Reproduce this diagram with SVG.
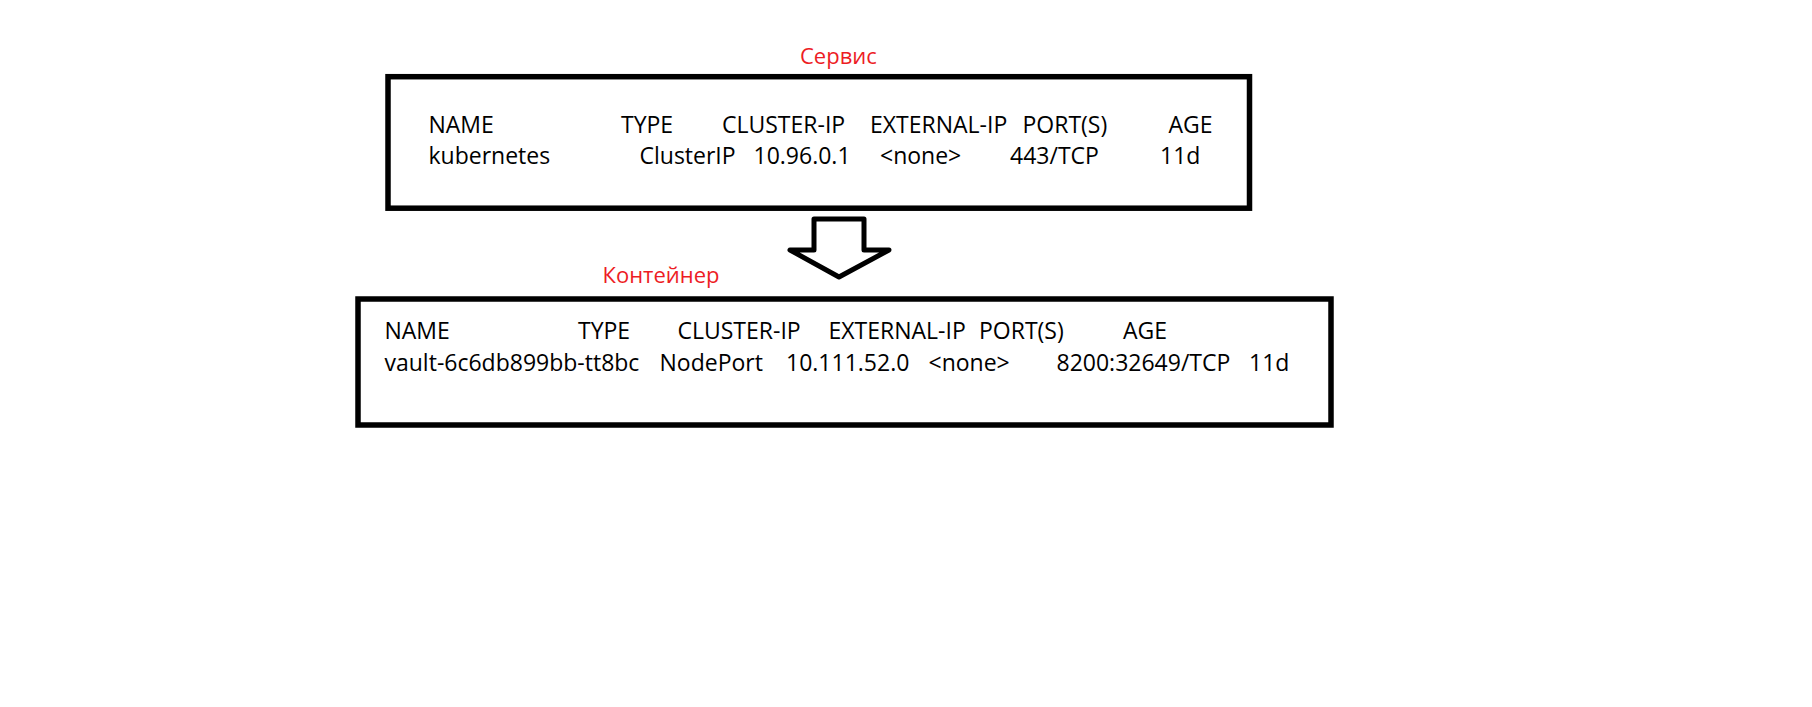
<svg xmlns="http://www.w3.org/2000/svg" width="1812" height="707" viewBox="0 0 1812 707">
  <style>
    .box { fill: none; stroke: #000; stroke-width: 5.5; }
    .t { font-family: "Open Sans", "Liberation Sans", sans-serif; font-size: 23px; fill: #000; }
    .title { font-family: "Open Sans", "Liberation Sans", sans-serif; font-size: 22px; fill: #ed1c24; }
    .arrow { fill: #fff; stroke: #000; stroke-width: 5; stroke-linejoin: round; }
  </style>
  <rect width="1812" height="707" fill="#fff"/>
  <g id="service">
    <text class="title" x="800" y="64">Сервис</text>
    <rect class="box" x="388" y="76.7" width="861.5" height="131.5"/>
    <text class="t" x="428.5" y="133.3">NAME</text>
    <text class="t" x="621" y="133.3">TYPE</text>
    <text class="t" x="722" y="133.3">CLUSTER-IP</text>
    <text class="t" x="870" y="133.3">EXTERNAL-IP</text>
    <text class="t" x="1022.5" y="133.3">PORT(S)</text>
    <text class="t" x="1168.5" y="133.3">AGE</text>
    <text class="t" x="428.5" y="164.3">kubernetes</text>
    <text class="t" x="639.5" y="164.3">ClusterIP</text>
    <text class="t" x="753.5" y="164.3">10.96.0.1</text>
    <text class="t" x="880" y="164.3">&lt;none&gt;</text>
    <text class="t" x="1010" y="164.3">443/TCP</text>
    <text class="t" x="1160" y="164.3">11d</text>
  </g>
  <g id="connectors">
    <path class="arrow" d="M 814 219 L 864 219 L 864 250 L 889 250 L 839 277 L 790 250 L 814 250 Z"/>
  </g>
  <g id="container">
    <text class="title" x="602.5" y="283">Контейнер</text>
    <rect class="box" x="358" y="299" width="973" height="126"/>
    <text class="t" x="384.5" y="339.3">NAME</text>
    <text class="t" x="578" y="339.3">TYPE</text>
    <text class="t" x="677.5" y="339.3">CLUSTER-IP</text>
    <text class="t" x="828.5" y="339.3">EXTERNAL-IP</text>
    <text class="t" x="979" y="339.3">PORT(S)</text>
    <text class="t" x="1123" y="339.3">AGE</text>
    <text class="t" x="384.5" y="371">vault-6c6db899bb-tt8bc</text>
    <text class="t" x="659.5" y="371">NodePort</text>
    <text class="t" x="786" y="371">10.111.52.0</text>
    <text class="t" x="928.5" y="371">&lt;none&gt;</text>
    <text class="t" x="1056.5" y="371">8200:32649/TCP</text>
    <text class="t" x="1249" y="371">11d</text>
  </g>
</svg>
